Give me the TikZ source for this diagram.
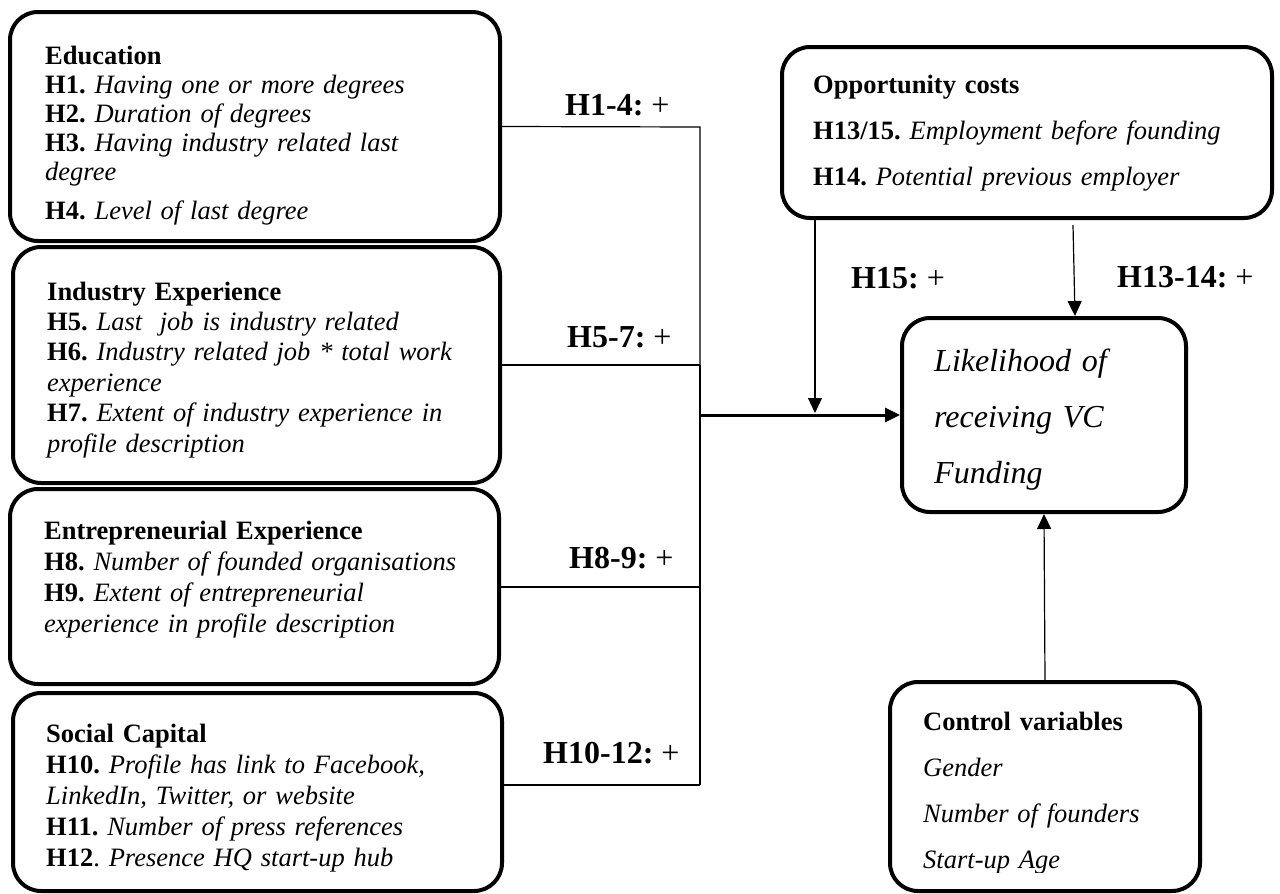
\documentclass[tikz,border=0pt]{standalone}
\usepackage{fontspec}
\setmainfont{Liberation Serif}
\usetikzlibrary{arrows.meta}
\tikzset{
  box/.style={draw, line width=4pt, rounded corners=28pt, inner sep=0pt, fill=white},
  txt/.style={anchor=base west, inner sep=0pt, align=left, text width=#1},
  lbl/.style={anchor=base west, inner sep=0pt, font=\fontsize{32}{36}\selectfont},
  conn/.style={line width=1.2pt},
  tip/.style={-{Triangle[length=15pt,width=14pt]}},
}
\newcommand{\bodyfont}[1]{\fontsize{26.5}{#1}\selectfont\frenchspacing}
\begin{document}
\frenchspacing
\begin{tikzpicture}[x=1pt,y=-1pt]
\useasboundingbox[fill=white] (0,0) rectangle (1280,894);

% boxes
\node[box, minimum width=490, minimum height=229] (edu) at (255,126.5) {};
\node[box, minimum width=487, minimum height=236] (ind) at (256.5,365) {};
\node[box, minimum width=489, minimum height=195] (ent) at (254.5,586.5) {};
\node[box, minimum width=489, minimum height=198] (soc) at (257.5,792) {};
\node[box, minimum width=490, minimum height=171] (opp) at (1027,132.5) {};
\node[box, minimum width=284, minimum height=194] (lik) at (1044,415) {};
\node[box, minimum width=310, minimum height=209] (ctrl) at (1045,786.5) {};

% texts
\begin{scope}
\clip (10,12) rectangle (500,224);
\node[txt=440pt, font=\bodyfont{29.2}] (edut) at (45,64)
  {\textbf{Education}\\
   \textbf{H1.} \textit{Having one or more degrees}\\
   \textbf{H2.} \textit{Duration of degrees}\\
   \textbf{H3.} \textit{Having industry related last}\\
   \textit{degree}\\[9pt]
   \textbf{H4.} \textit{Level of last degree}};
\end{scope}
\node[txt=440pt, font=\bodyfont{30.4}] (indt) at (47,300)
  {\textbf{Industry Experience}\\
   \textbf{H5.} \textit{Last~ job is industry related}\\
   \textbf{H6.} \textit{Industry related job * total work}\\
   \textit{experience}\\
   \textbf{H7.} \textit{Extent of industry experience in}\\
   \textit{profile description}};
\node[txt=440pt, font=\bodyfont{31}] (entt) at (44,539)
  {\textbf{Entrepreneurial Experience}\\
   \textbf{H8.} \textit{Number of founded organisations}\\
   \textbf{H9.} \textit{Extent of entrepreneurial}\\
   \textit{experience in profile description}};
\node[txt=440pt, font=\bodyfont{31}] (soct) at (46,742)
  {\textbf{Social Capital}\\
   \textbf{H10.} \textit{Profile has link to Facebook,}\\
   \textit{LinkedIn, Twitter, or website}\\
   \textbf{H11.} \textit{Number of press references}\\
   \textbf{H12}. \textit{Presence HQ start-up hub}};
\node[txt=440pt, font=\bodyfont{46}] (oppt) at (813,93)
  {\textbf{Opportunity costs}\\
   \textbf{H13/15.} \textit{Employment before founding}\\
   \textbf{H14.} \textit{Potential previous employer}};
\node[txt=240pt, font=\fontsize{32}{56}\selectfont\itshape] (likt) at (934,371)
  {Likelihood of\\ receiving VC\\ Funding};
\begin{scope}
\clip (890,682) rectangle (1200,872);
\node[txt=270pt, font=\bodyfont{46}] (ctrlt) at (923,730)
  {\textbf{Control variables}\\
   \textit{Gender}\\
   \textit{Number of founders}\\
   \textit{Start-up Age}};
\end{scope}

% labels
\node[lbl] (l14) at (565,115) {\textbf{H1-4:} +};
\node[lbl] (l57) at (567,347) {\textbf{H5-7:} +};
\node[lbl] (l89) at (569,568) {\textbf{H8-9:} +};
\node[lbl] (l1012) at (543,763) {\textbf{H10-12:} +};
\node[lbl] (l15) at (851,288) {\textbf{H15:} +};
\node[lbl] (l1314) at (1117,287) {\textbf{H13-14:} +};

% connectors
\coordinate (j1) at (700,127);
\coordinate (j2) at (700,365);
\coordinate (j3) at (700,587);
\coordinate (j4) at (700,785);
\coordinate (jm) at (700,415);
\coordinate (mt) at (815,413);
\coordinate (h1) at (1073,225);
\coordinate (h2) at (1075,316);

\draw[conn] (edu.east) -- (j1) -- (j2);
\draw[conn] (ind.east) -- (j2);
\draw[line width=2.5pt] (j2) -- (j4);
\draw[line width=1.8pt] (ent.east |- j3) -- (j3);
\draw[line width=1.8pt] (soc.east |- j4) -- (j4);
\draw[line width=3pt, tip] (jm) -- (lik.west);
\draw[conn, tip] (opp.south -| mt) -- (mt);
\draw[conn, tip] (h1) -- (h2);
\draw[conn, tip] (ctrl.north) -- (lik.south);
\end{tikzpicture}
\end{document}
